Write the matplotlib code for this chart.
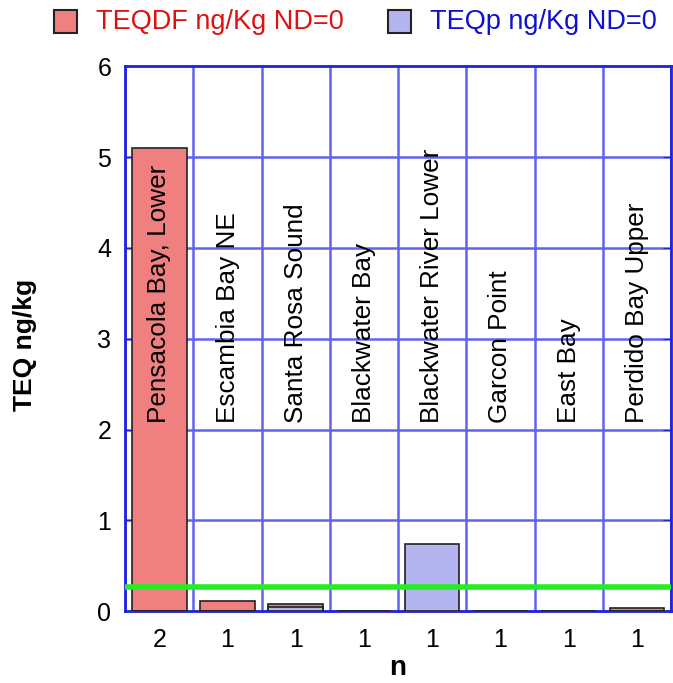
import numpy as np
import matplotlib.pyplot as plt
from matplotlib.patches import Rectangle

plt.rcParams['font.family'] = ['Liberation Sans', 'DejaVu Sans']

# data
sites = ['Pensacola Bay, Lower', 'Escambia Bay NE', 'Santa Rosa Sound', 'Blackwater Bay',
         'Blackwater River Lower', 'Garcon Point', 'East Bay', 'Perdido Bay Upper']
n_labels = ['2', '1', '1', '1', '1', '1', '1', '1']
teqdf = [5.10, 0.11, 0.08, 0.006, 0.0, 0.0, 0.0, 0.04]
teqp = [0.0, 0.0, 0.05, 0.0, 0.74, 0.0, 0.0, 0.0]
threshold = 0.27

W, H = 673, 683
grid_blue = '#6262f2'
fig = plt.figure(figsize=(W / 100, H / 100), dpi=100)
ax = fig.add_axes([0.186, 0.105, 0.811, 0.798])

x = np.arange(len(sites))
ax.bar(x, teqdf, width=0.8, color='#f08080', edgecolor='#222222', linewidth=1.2, zorder=3)
ax.bar(x, teqp, width=0.8, color='#b4b4f0', edgecolor='#222222', linewidth=1.2, zorder=3)
ax.axhline(threshold, color='#22ee22', lw=4, zorder=4)

for i, s in enumerate(sites):
    ax.text(i, 2.07, s, rotation=90, ha='center', va='bottom', fontsize=18.8, zorder=5)

ax.set_xlim(-0.5, len(sites) - 0.5)
ax.set_ylim(0, 6)
ax.set_yticks(range(7))
ax.set_xticks(x)
ax.set_xticklabels(n_labels, fontsize=18)
ax.tick_params(axis='y', labelsize=18, direction='in', color='#2020e0', right=True,
               length=6, pad=10)
ax.tick_params(axis='x', length=0, pad=12)

# grid at category boundaries
for b in np.arange(-0.5, len(sites) - 0.4, 1.0):
    ax.axvline(b, color=grid_blue, lw=1.8, zorder=1)
for yv in range(1, 6):
    ax.axhline(yv, color=grid_blue, lw=1.8, zorder=1)
for sp in ax.spines.values():
    sp.set_color('#2020e0')
    sp.set_linewidth(2)

ax.set_xlabel('n', fontsize=20, fontweight='bold', labelpad=2)
fig.text(25 / W, 1 - 345 / H, 'TEQ ng/kg', rotation=90, ha='center', va='center',
         fontsize=19, fontweight='bold')

# legend drawn by hand (pixel positions from the reference)
legend_items = [('TEQDF ng/Kg ND=0', '#f08080', '#e01010', 54),
                ('TEQp ng/Kg ND=0', '#b4b4f0', '#1010d0', 388)]
for label, face, tcolor, px in legend_items:
    fig.patches.append(Rectangle((px / W, 1 - 33 / H), 23 / W, 23 / H,
                                 transform=fig.transFigure, facecolor=face,
                                 edgecolor='#222222', linewidth=1.5))
    fig.text((px + 42) / W, 1 - 22 / H, label, color=tcolor, fontsize=19.5,
             ha='left', va='center')

fig.savefig('out.png', dpi=100)
